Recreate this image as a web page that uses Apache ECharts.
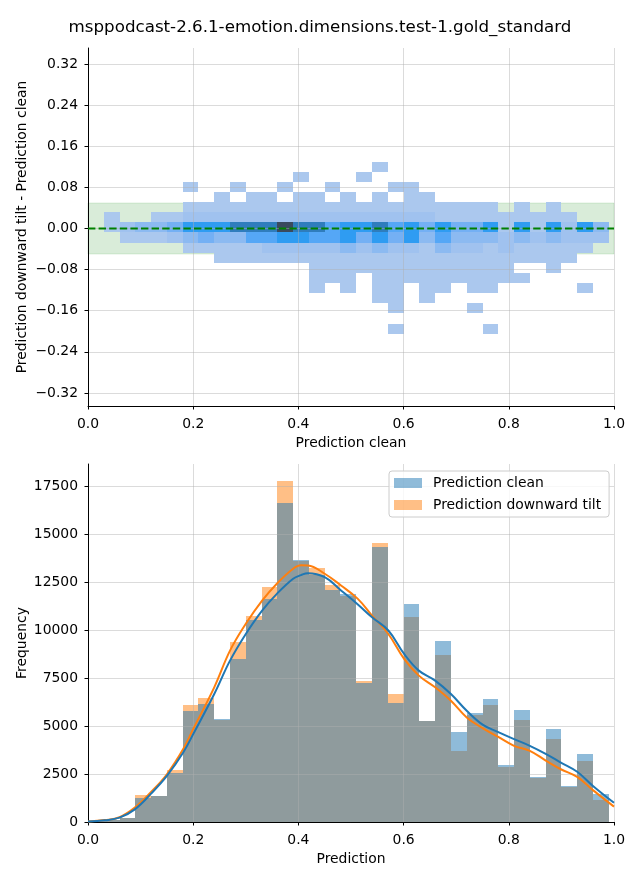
<!DOCTYPE html>
<html><head><meta charset="utf-8">
<script src="https://cdn.jsdelivr.net/npm/echarts@6/dist/echarts.min.js"></script>
<style>html,body{margin:0;padding:0;background:#fff}#c{width:640px;height:880px}</style>
</head><body><div id="c"></div>
<script>
// ---------- data ----------
const titleText = 'msppodcast-2.6.1-emotion.dimensions.test-1.gold_standard';
const seriesNames = ['Prediction clean', 'Prediction downward tilt'];

// histogram bin edges (Prediction)
const binEdges = [0.00,0.03,0.06,0.09,0.12,0.15,0.18,0.21,0.24,0.27,0.30,0.33,0.36,0.39,0.42,0.45,0.48,0.51,0.54,0.57,0.60,0.63,0.66,0.69,0.72,0.75,0.78,0.81,0.84,0.87,0.90,0.93,0.96,0.99];
const countClean = [60,100,190,1270,1350,2560,5800,6130,5380,8520,10550,11620,16610,13650,12870,12090,11860,7230,14310,6220,11340,5240,9460,4670,5660,6430,2980,5850,2370,4860,1900,3550,1460];
const countTilt  = [60,110,230,1410,1340,2700,6100,6480,5310,9400,10760,12230,17770,13580,13220,12330,11760,7330,14520,6690,10660,5290,8730,3710,5590,6110,2870,5330,2300,4340,1830,3190,1150];

// KDE curves
const kdeX     = [0.00,0.032,0.06,0.089,0.119,0.15,0.181,0.20,0.24,0.27,0.30,0.331,0.359,0.39,0.405,0.418,0.45,0.481,0.513,0.54,0.571,0.601,0.629,0.66,0.69,0.72,0.751,0.779,0.81,0.84,0.871,0.899,0.93,0.96,1.00];
const kdeClean = [30,90,225,660,1450,2400,3620,4580,6670,8410,9800,11020,11890,12680,12870,12970,12760,12070,11340,10670,9980,8760,7890,7370,6670,5800,5060,4700,4320,3970,3540,3100,2620,1880,1000];
const kdeTilt  = [30,100,250,750,1540,2490,3800,4840,7020,8930,10330,11540,12420,13200,13380,13370,12940,12330,11630,10760,9800,8500,7630,7020,6320,5450,4880,4450,3970,3710,3190,2750,2350,1660,800];

// 2-D histogram: difference bin edges and relative count level per (prediction bin, difference bin)
const diffEdges = [-0.2048,-0.1851,-0.1654,-0.1457,-0.1260,-0.1063,-0.0866,-0.0669,-0.0472,-0.0275,-0.0078,0.0119,0.0316,0.0513,0.0710,0.0907,0.1104,0.1301];
const heatLevels = [
  [0,0,0,0,0,0,0,0,0,0,0,0,0,0,0,0,0],
  [0,0,0,0,0,0,0,0,0,0,1,1,0,0,0,0,0],
  [0,0,0,0,0,0,0,0,0,1,2,0,0,0,0,0,0],
  [0,0,0,0,0,0,0,0,0,1,3,0,0,0,0,0,0],
  [0,0,0,0,0,0,0,0,0,1,3,1,0,0,0,0,0],
  [0,0,0,0,0,0,0,0,0,2,4,1,0,0,0,0,0],
  [0,0,0,0,0,0,0,0,1,3,6,2,1,0,1,0,0],
  [0,0,0,0,0,0,0,0,1,4,6,2,1,0,0,0,0],
  [0,0,0,0,0,0,0,1,1,3,6,2,1,1,0,0,0],
  [0,0,0,0,0,0,0,1,1,3,7,2,1,0,1,0,0],
  [0,0,0,0,0,0,0,1,1,5,7,2,1,1,0,0,0],
  [0,0,0,0,0,0,0,1,2,5,7,2,1,1,0,0,0],
  [0,0,0,0,0,0,0,1,2,6,9,2,1,0,1,0,0],
  [0,0,0,0,0,0,0,1,2,6,7,2,1,1,0,1,0],
  [0,0,0,0,1,1,1,1,2,5,7,2,1,1,0,0,0],
  [0,0,0,0,0,1,1,1,2,5,5,2,1,0,1,0,0],
  [0,0,0,0,1,1,1,1,3,6,6,2,1,1,0,0,0],
  [0,0,0,0,0,0,1,1,2,4,6,2,1,0,0,1,0],
  [0,0,0,1,1,1,1,1,3,6,7,2,1,1,0,0,1],
  [1,0,1,1,1,1,1,1,2,4,5,2,1,0,1,0,0],
  [0,0,0,0,0,1,1,1,2,6,6,2,1,1,1,0,0],
  [0,0,0,1,1,1,1,1,1,3,4,2,1,1,0,0,0],
  [0,0,0,0,1,1,1,1,3,5,6,1,1,0,0,0,0],
  [0,0,0,0,0,1,1,1,2,3,4,1,1,0,0,0,0],
  [0,0,1,0,1,1,1,1,2,3,4,1,1,0,0,0,0],
  [1,0,0,0,1,1,1,1,1,3,6,1,1,0,0,0,0],
  [0,0,0,0,0,1,1,1,2,2,1,1,0,0,0,0,0],
  [0,0,0,0,0,1,0,1,1,3,6,1,1,0,0,0,0],
  [0,0,0,0,0,0,0,1,1,2,1,1,0,0,0,0,0],
  [0,0,0,0,0,0,1,1,1,3,6,1,1,0,0,0,0],
  [0,0,0,0,0,0,0,1,1,2,2,1,0,0,0,0,0],
  [0,0,0,0,1,0,0,0,1,2,6,0,0,0,0,0,0],
  [0,0,0,0,0,0,0,0,0,2,3,0,0,0,0,0,0]
];
const bandLimits = [-0.05, 0.05];
const diffTicks = [-0.32,-0.24,-0.16,-0.08,0,0.08,0.16,0.24,0.32];
const freqTicks = [0,2500,5000,7500,10000,12500,15000,17500];

// ---------- styles ----------
const FONT = 'DejaVu Sans';
const heatColors = [null,'#abc8ee','#a0c2ef','#8cbaf1','#74b0f4','#55a7f6','#2f9cf2','#2f7dbd','#33628f','#3a4a5e'];
const cleanFill = 'rgba(31,119,180,0.5)';
const tiltFill = 'rgba(255,127,14,0.5)';

// ---------- build ----------
const heatData = [];
heatLevels.forEach((col, i) => col.forEach((lv, j) => {
  if (lv > 0) heatData.push([binEdges[i], binEdges[i + 1], diffEdges[j], diffEdges[j + 1], lv]);
}));
const histClean = countClean.map((c, i) => [binEdges[i], binEdges[i + 1], 0, c]);
const histTilt = countTilt.map((c, i) => [binEdges[i], binEdges[i + 1], 0, c]);
const bandData = [[0, 1, bandLimits[0], bandLimits[1]]];

function rectFrom(api) {
  const p0 = api.coord([api.value(0), api.value(3)]);
  const p1 = api.coord([api.value(1), api.value(2)]);
  const x0 = Math.round(p0[0]), x1 = Math.round(p1[0]);
  const y0 = Math.round(p0[1]), y1 = Math.round(p1[1]);
  return { x: x0, y: y0, width: x1 - x0, height: y1 - y0 };
}

const axisCommon = {
  axisLine: { show: true, onZero: false, lineStyle: { color: '#000', width: 1 } },
  axisTick: { show: true, length: 3.5, lineStyle: { color: '#000', width: 1 } },
  splitLine: { show: true, lineStyle: { color: '#b0b0b0', opacity: 0.45, width: 1 } },
  nameTextStyle: { fontFamily: FONT, fontSize: 13.9, color: '#000' },
  nameLocation: 'middle',
  nameMoveOverlap: false
};
const labelCommon = { fontFamily: FONT, fontSize: 13.9, color: '#000' };

const chart = echarts.init(document.getElementById('c'), null, { renderer: 'canvas' });
chart.setOption({
  animation: false,
  backgroundColor: '#fff',
  title: { text: titleText, left: 'center', top: 14,
    textStyle: { fontFamily: FONT, fontSize: 16.7, fontWeight: 'normal', color: '#000' } },
  legend: {
    orient: 'vertical', left: 389, top: 471, padding: [5, 8, 5, 5], itemGap: 8,
    itemWidth: 28, itemHeight: 10, borderColor: '#cccccc', borderWidth: 1, borderRadius: 3,
    backgroundColor: 'rgba(255,255,255,0.8)',
    textStyle: { fontFamily: FONT, fontSize: 13.9, color: '#000', padding: [0, 0, 0, 6] },
    data: [
      { name: seriesNames[0], icon: 'rect', itemStyle: { color: cleanFill } },
      { name: seriesNames[1], icon: 'rect', itemStyle: { color: tiltFill } }
    ]
  },
  grid: [
    { left: 88, right: 26, top: 48, height: 358 },
    { left: 88, right: 26, top: 464, height: 358 }
  ],
  xAxis: [
    Object.assign({}, axisCommon, { gridIndex: 0, type: 'value', min: 0, max: 1, interval: 0.2,
      name: 'Prediction clean', nameGap: 30,
      axisLabel: Object.assign({ margin: 11, formatter: v => v.toFixed(1) }, labelCommon) }),
    Object.assign({}, axisCommon, { gridIndex: 1, type: 'value', min: 0, max: 1, interval: 0.2,
      name: 'Prediction', nameGap: 30,
      axisLabel: Object.assign({ margin: 11, formatter: v => v.toFixed(1) }, labelCommon) })
  ],
  yAxis: [
    Object.assign({}, axisCommon, { gridIndex: 0, type: 'value', min: -0.3454, max: 0.3512,
      name: 'Prediction downward tilt - Prediction clean', nameGap: 59,
      axisTick: Object.assign({}, axisCommon.axisTick, { customValues: diffTicks }),
      axisLabel: Object.assign({ margin: 10, customValues: diffTicks,
        formatter: v => (v < 0 ? '\u2212' : '') + Math.abs(v).toFixed(2) }, labelCommon) }),
    Object.assign({}, axisCommon, { gridIndex: 1, type: 'value', min: 0, max: 18660,
      name: 'Frequency', nameGap: 59,
      axisTick: Object.assign({}, axisCommon.axisTick, { customValues: freqTicks }),
      axisLabel: Object.assign({ margin: 10, customValues: freqTicks, formatter: v => String(v) }, labelCommon) })
  ],
  series: [
    { type: 'custom', name: 'band', xAxisIndex: 0, yAxisIndex: 0, z: -3, silent: true,
      encode: { x: [0, 1], y: [2, 3] }, data: bandData,
      renderItem: (p, api) => ({ type: 'rect', shape: rectFrom(api),
        style: { fill: 'rgba(0,128,0,0.15)', stroke: 'rgba(0,128,0,0.12)', lineWidth: 1 } }) },
    { type: 'custom', name: 'heat', xAxisIndex: 0, yAxisIndex: 0, z: -1, silent: true,
      encode: { x: [0, 1], y: [2, 3] }, data: heatData,
      renderItem: (p, api) => ({ type: 'rect', shape: rectFrom(api),
        style: { fill: heatColors[api.value(4)] } }) },
    { type: 'line', name: 'zero', xAxisIndex: 0, yAxisIndex: 0, z: 5, silent: true,
      data: [[0, 0], [1, 0]], symbol: 'none',
      lineStyle: { color: '#008000', width: 2, type: [7.4, 3.2] } },
    { type: 'custom', name: seriesNames[1], xAxisIndex: 1, yAxisIndex: 1, z: -2, silent: true,
      encode: { x: [0, 1], y: [2, 3] }, data: histTilt, itemStyle: { color: tiltFill },
      renderItem: (p, api) => ({ type: 'rect', shape: rectFrom(api), style: { fill: tiltFill } }) },
    { type: 'custom', name: seriesNames[0], xAxisIndex: 1, yAxisIndex: 1, z: -1, silent: true,
      encode: { x: [0, 1], y: [2, 3] }, data: histClean, itemStyle: { color: cleanFill },
      renderItem: (p, api) => ({ type: 'rect', shape: rectFrom(api), style: { fill: cleanFill } }) },
    { type: 'line', name: 'kde tilt', xAxisIndex: 1, yAxisIndex: 1, z: 3, silent: true,
      data: kdeX.map((x, i) => [x, kdeTilt[i]]), symbol: 'none', smooth: 0.4,
      lineStyle: { color: '#ff7f0e', width: 2 } },
    { type: 'line', name: 'kde clean', xAxisIndex: 1, yAxisIndex: 1, z: 4, silent: true,
      data: kdeX.map((x, i) => [x, kdeClean[i]]), symbol: 'none', smooth: 0.4,
      lineStyle: { color: '#1f77b4', width: 2 } }
  ]
});
</script>
</body></html>
